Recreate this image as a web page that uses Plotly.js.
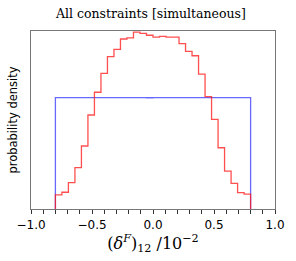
<!DOCTYPE html>
<html>
<head>
<meta charset="utf-8">
<script src="https://cdn.plot.ly/plotly-3.0.1.min.js"></script>
<style>html,body{margin:0;padding:0;background:#fff;}#chart{width:296px;height:261px;}</style>
</head>
<body>
<div id="chart"></div>
<script>
// Histogram range and bins (units of 10^-2)
const binStart = -0.8;
const binEnd = 0.8;
const nBins = 30;

// Red: "All constraints [simultaneous]" posterior density per bin
const redValues = [0.079, 0.094, 0.148, 0.232, 0.354, 0.528, 0.656, 0.762, 0.856, 0.897,
                   0.955, 0.961, 0.994, 0.987, 0.976, 0.966, 0.970, 0.966, 0.966, 0.929,
                   0.886, 0.861, 0.758, 0.631, 0.504, 0.344, 0.213, 0.144, 0.092, 0.084];
// Blue: prior density per bin (flat)
const blueValues = [0.626, 0.626, 0.626, 0.626, 0.626, 0.626, 0.626, 0.626, 0.626, 0.626,
                    0.626, 0.626, 0.626, 0.626, 0.625, 0.626, 0.626, 0.626, 0.626, 0.626,
                    0.626, 0.626, 0.626, 0.626, 0.626, 0.626, 0.626, 0.626, 0.626, 0.626];

const xTickVals = [-1.0, -0.5, 0.0, 0.5, 1.0];
const xTickText = ['\u22121.0', '\u22120.5', '0.0', '0.5', '1.0'];

function stepTrace(vals, color) {
  const w = (binEnd - binStart) / vals.length;
  const xs = [binStart], ys = [0];
  vals.forEach((v, i) => { xs.push(binStart + i * w); ys.push(v); });
  xs.push(binEnd); ys.push(vals[vals.length - 1]);
  xs.push(binEnd); ys.push(0);
  return {x: xs, y: ys, type: 'scatter', mode: 'lines',
          line: {shape: 'hv', color: color, width: 1.3},
          hoverinfo: 'skip', showlegend: false};
}

const data = [stepTrace(blueValues, 'rgba(40,40,255,0.7)'),
              stepTrace(redValues, 'rgba(255,20,20,0.75)')];

const axisColor = '#777';
const layout = {
  width: 296, height: 261,
  margin: {l: 31, r: 21, t: 31, b: 52, pad: 0},
  paper_bgcolor: '#fff', plot_bgcolor: '#fff',
  title: {text: 'All constraints [simultaneous]', x: 0.51, xanchor: 'center', y: 0.947, yanchor: 'middle',
          font: {family: 'DejaVu Serif', size: 12.5, color: '#000'}},
  xaxis: {range: [-1, 1], showgrid: false, zeroline: false,
          showline: true, linecolor: axisColor, linewidth: 1.4, mirror: true,
          tickmode: 'array', tickvals: xTickVals, ticktext: xTickText,
          ticks: 'outside', ticklen: 4, tickwidth: 1, tickcolor: '#333',
          minor: {dtick: 0.1, ticks: 'outside', ticklen: 4, tickwidth: 1, tickcolor: '#333', showgrid: false},
          tickfont: {family: 'DejaVu Sans', size: 12, color: '#000'},
          title: {text: '(<i>δ</i><sup><i>F</i></sup>)<sub>12</sub> /10<sup>−2</sup>', standoff: 5,
                  font: {family: 'DejaVu Serif', size: 16, color: '#000'}}},
  yaxis: {range: [0, 1.0], showgrid: false, zeroline: false,
          showline: true, linecolor: axisColor, linewidth: 1.4, mirror: true,
          showticklabels: false, ticks: '',
          title: {text: 'probability density', standoff: 9,
                  font: {family: 'DejaVu Sans', size: 11.5, color: '#000'}}}
};

Plotly.newPlot('chart', data, layout, {staticPlot: true, displayModeBar: false});
</script>
</body>
</html>
